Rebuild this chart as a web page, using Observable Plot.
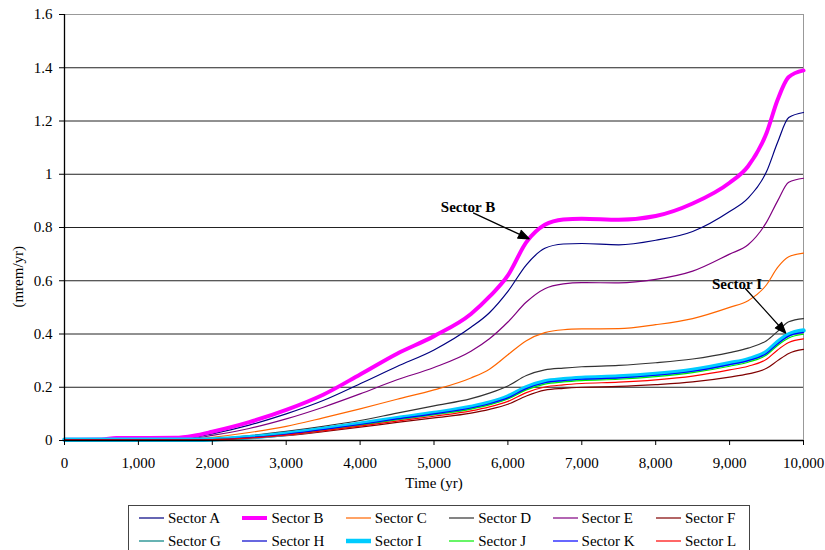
<!DOCTYPE html>
<html>
<head>
<meta charset="utf-8">
<script src="https://cdn.jsdelivr.net/npm/d3@7"></script>
<script src="https://cdn.jsdelivr.net/npm/@observablehq/plot@0.6"></script>
<style>
  body { margin: 0; background: #fff; width: 825px; height: 550px; overflow: hidden; position: relative;
         font-family: "Liberation Serif", "Times New Roman", serif; }
  #chart { position: absolute; left: 0; top: 0; }
  #legend { position: absolute; left: 128px; top: 505px; width: 622px; height: 52px;
            border: 1.5px solid #444; box-sizing: border-box; background: #fff; }
  .item { position: absolute; height: 20px; display: flex; align-items: center; font-size: 15px; color: #000; white-space: nowrap; }
  .item svg { margin-right: 4px; }
</style>
</head>
<body>
<div id="chart"></div>
<div id="legend"></div>
<script>
// Simulated time (years) at which dose rates are reported
const time = [0, 500, 700, 1000, 1500, 1750, 2000, 2500, 3000, 3500, 4000, 4500, 5000, 5500, 5750,
              6000, 6250, 6500, 6750, 7000, 7500, 8000, 8500, 9000, 9250, 9500, 9650, 9800, 10000];

// Dose rate per sector (mrem/yr)
const sectorA = [0.002, 0.003, 0.005, 0.005, 0.006, 0.012, 0.025, 0.058, 0.100, 0.150, 0.213, 0.278, 0.340, 0.425, 0.480,
                 0.560, 0.660, 0.722, 0.738, 0.740, 0.735, 0.752, 0.785, 0.860, 0.910, 1.010, 1.120, 1.213, 1.232];
const sectorB = [0.003, 0.004, 0.009, 0.009, 0.010, 0.018, 0.033, 0.069, 0.115, 0.172, 0.248, 0.326, 0.392, 0.475, 0.540,
                 0.620, 0.745, 0.810, 0.830, 0.833, 0.829, 0.843, 0.890, 0.968, 1.030, 1.155, 1.280, 1.365, 1.390];
const sectorC = [0.001, 0.001, 0.002, 0.002, 0.003, 0.005, 0.012, 0.030, 0.053, 0.085, 0.119, 0.155, 0.190, 0.235, 0.268,
                 0.322, 0.375, 0.405, 0.416, 0.419, 0.420, 0.435, 0.458, 0.500, 0.525, 0.585, 0.650, 0.690, 0.704];
const sectorD = [0.001, 0.001, 0.001, 0.001, 0.002, 0.003, 0.006, 0.018, 0.034, 0.053, 0.075, 0.103, 0.130, 0.157, 0.178,
                 0.205, 0.244, 0.265, 0.272, 0.277, 0.282, 0.292, 0.306, 0.330, 0.347, 0.375, 0.410, 0.446, 0.458];
const sectorE = [0.002, 0.002, 0.003, 0.003, 0.004, 0.008, 0.019, 0.045, 0.081, 0.125, 0.175, 0.228, 0.274, 0.335, 0.382,
                 0.445, 0.520, 0.570, 0.588, 0.593, 0.592, 0.605, 0.636, 0.700, 0.735, 0.820, 0.900, 0.970, 0.985];
const sectorF = [0.001, 0.001, 0.001, 0.001, 0.001, 0.001, 0.002, 0.008, 0.018, 0.033, 0.050, 0.068, 0.085, 0.103, 0.117,
                 0.136, 0.167, 0.189, 0.196, 0.200, 0.203, 0.210, 0.220, 0.238, 0.250, 0.271, 0.300, 0.327, 0.342];
const sectorG = [0.002, 0.002, 0.002, 0.002, 0.002, 0.002, 0.003, 0.011, 0.024, 0.042, 0.062, 0.083, 0.102, 0.124, 0.140,
                 0.163, 0.198, 0.220, 0.228, 0.233, 0.238, 0.248, 0.263, 0.288, 0.303, 0.330, 0.367, 0.395, 0.410];
const sectorH = [0.003, 0.003, 0.003, 0.003, 0.003, 0.003, 0.004, 0.012, 0.026, 0.044, 0.064, 0.085, 0.104, 0.127, 0.143,
                 0.166, 0.201, 0.223, 0.231, 0.236, 0.241, 0.251, 0.266, 0.291, 0.306, 0.334, 0.371, 0.399, 0.414];
const sectorI = [0.003, 0.003, 0.003, 0.003, 0.003, 0.003, 0.004, 0.012, 0.025, 0.043, 0.063, 0.084, 0.103, 0.126, 0.142,
                 0.165, 0.200, 0.222, 0.230, 0.235, 0.240, 0.250, 0.265, 0.290, 0.305, 0.333, 0.370, 0.398, 0.413];
const sectorJ = [0.002, 0.002, 0.002, 0.002, 0.002, 0.002, 0.003, 0.010, 0.022, 0.039, 0.058, 0.078, 0.097, 0.118, 0.134,
                 0.156, 0.190, 0.212, 0.220, 0.225, 0.230, 0.240, 0.255, 0.279, 0.294, 0.321, 0.357, 0.385, 0.399];
const sectorK = [0.002, 0.002, 0.002, 0.002, 0.002, 0.002, 0.003, 0.011, 0.023, 0.041, 0.060, 0.081, 0.100, 0.122, 0.138,
                 0.160, 0.195, 0.217, 0.225, 0.230, 0.235, 0.245, 0.260, 0.285, 0.300, 0.327, 0.363, 0.392, 0.406];
const sectorL = [0.002, 0.002, 0.002, 0.002, 0.002, 0.002, 0.003, 0.009, 0.020, 0.036, 0.054, 0.073, 0.091, 0.111, 0.126,
                 0.147, 0.180, 0.201, 0.209, 0.214, 0.219, 0.228, 0.242, 0.265, 0.279, 0.305, 0.340, 0.368, 0.382];

const sectorNames = ["Sector A", "Sector B", "Sector C", "Sector D", "Sector E", "Sector F",
                     "Sector G", "Sector H", "Sector I", "Sector J", "Sector K", "Sector L"];
const sectorValues = [sectorA, sectorB, sectorC, sectorD, sectorE, sectorF,
                      sectorG, sectorH, sectorI, sectorJ, sectorK, sectorL];
const sectorColors = ["#000080", "#FF00FF", "#FF6600", "#333333", "#800080", "#800000",
                      "#008080", "#0000CC", "#00CCFF", "#00EE00", "#0000FF", "#FF0000"];
const sectorWidths = [1.2, 4, 1.2, 1.2, 1.2, 1.2, 1.2, 1.2, 4.5, 1.2, 1.2, 1.2];

// Axis ticks
const xTicks = [0, 1000, 2000, 3000, 4000, 5000, 6000, 7000, 8000, 9000, 10000];
const yTicks = [0, 0.2, 0.4, 0.6, 0.8, 1, 1.2, 1.4, 1.6];

// Callouts: label position and arrow from label to curve
const callouts = [
  {label: "Sector B", tx: 5460, ty: 0.876, x1: 5530, y1: 0.855, x2: 6290, y2: 0.757},
  {label: "Sector I", tx: 9100, ty: 0.588, x1: 9210, y1: 0.572, x2: 9760, y2: 0.403}
];

const rows = sectorNames.flatMap((name, i) =>
  time.map((t, j) => ({sector: name, time: t, dose: sectorValues[i][j]})));

const lineMarks = sectorNames.map((name, i) =>
  Plot.lineY(rows.filter(d => d.sector === name), {
    x: "time", y: "dose", stroke: sectorColors[i], strokeWidth: sectorWidths[i], curve: "monotone-x"
  }));

const chart = Plot.plot({
  width: 825, height: 495,
  marginLeft: 64, marginRight: 22, marginTop: 14, marginBottom: 55,
  style: {fontFamily: "Liberation Serif, Times New Roman, serif", fontSize: "15px", color: "#000", background: "#fff", overflow: "visible"},
  x: {domain: [0, 10000]},
  y: {domain: [0, 1.6]},
  marks: [
    Plot.ruleY(yTicks.filter(v => v > 0 && v < 1.6), {stroke: "#222", strokeWidth: 1}),
    Plot.ruleY([1.6], {stroke: "#999", strokeWidth: 1}),
    Plot.ruleX([10000], {stroke: "#999", strokeWidth: 1}),
    ...lineMarks,
    Plot.ruleX([0], {stroke: "#000", strokeWidth: 1.3}),
    Plot.ruleY([0], {stroke: "#000", strokeWidth: 1.3}),
    Plot.axisX({ticks: xTicks, tickFormat: d3.format(","), tickSize: 5, tickPadding: 12, label: null, fontSize: 15}),
    Plot.axisY({ticks: yTicks, tickFormat: d => String(d), tickSize: 5, tickPadding: 7, label: null, fontSize: 15}),
    Plot.text(["Time (yr)"], {x: 5000, y: 0, dy: 43, fontSize: 15, text: d => d}),
    Plot.text(["(mrem/yr)"], {x: 0, y: 0.615, dx: -46, rotate: -90, fontSize: 15, text: d => d}),
    Plot.arrow(callouts, {x1: "x1", y1: "y1", x2: "x2", y2: "y2", stroke: "#000", fill: "#000",
                          strokeWidth: 1.3, headLength: 14, headAngle: 42, strokeLinecap: "butt", strokeLinejoin: "miter"}),
    Plot.text(callouts, {x: "tx", y: "ty", text: "label", fontWeight: "bold", fontSize: 15})
  ]
});
document.getElementById("chart").append(chart);

// Legend: two rows of six entries
const legend = document.getElementById("legend");
sectorNames.forEach((name, i) => {
  const col = i % 6, row = Math.floor(i / 6);
  const item = document.createElement("div");
  item.className = "item";
  item.style.left = (10 + col * 103.4) + "px";
  item.style.top = (2 + row * 23) + "px";
  item.innerHTML = `<svg width="25" height="10"><line x1="0" x2="25" y1="5" y2="5" stroke="${sectorColors[i]}" stroke-width="${sectorWidths[i]}"/></svg><span>${name}</span>`;
  legend.append(item);
});
</script>
</body>
</html>
